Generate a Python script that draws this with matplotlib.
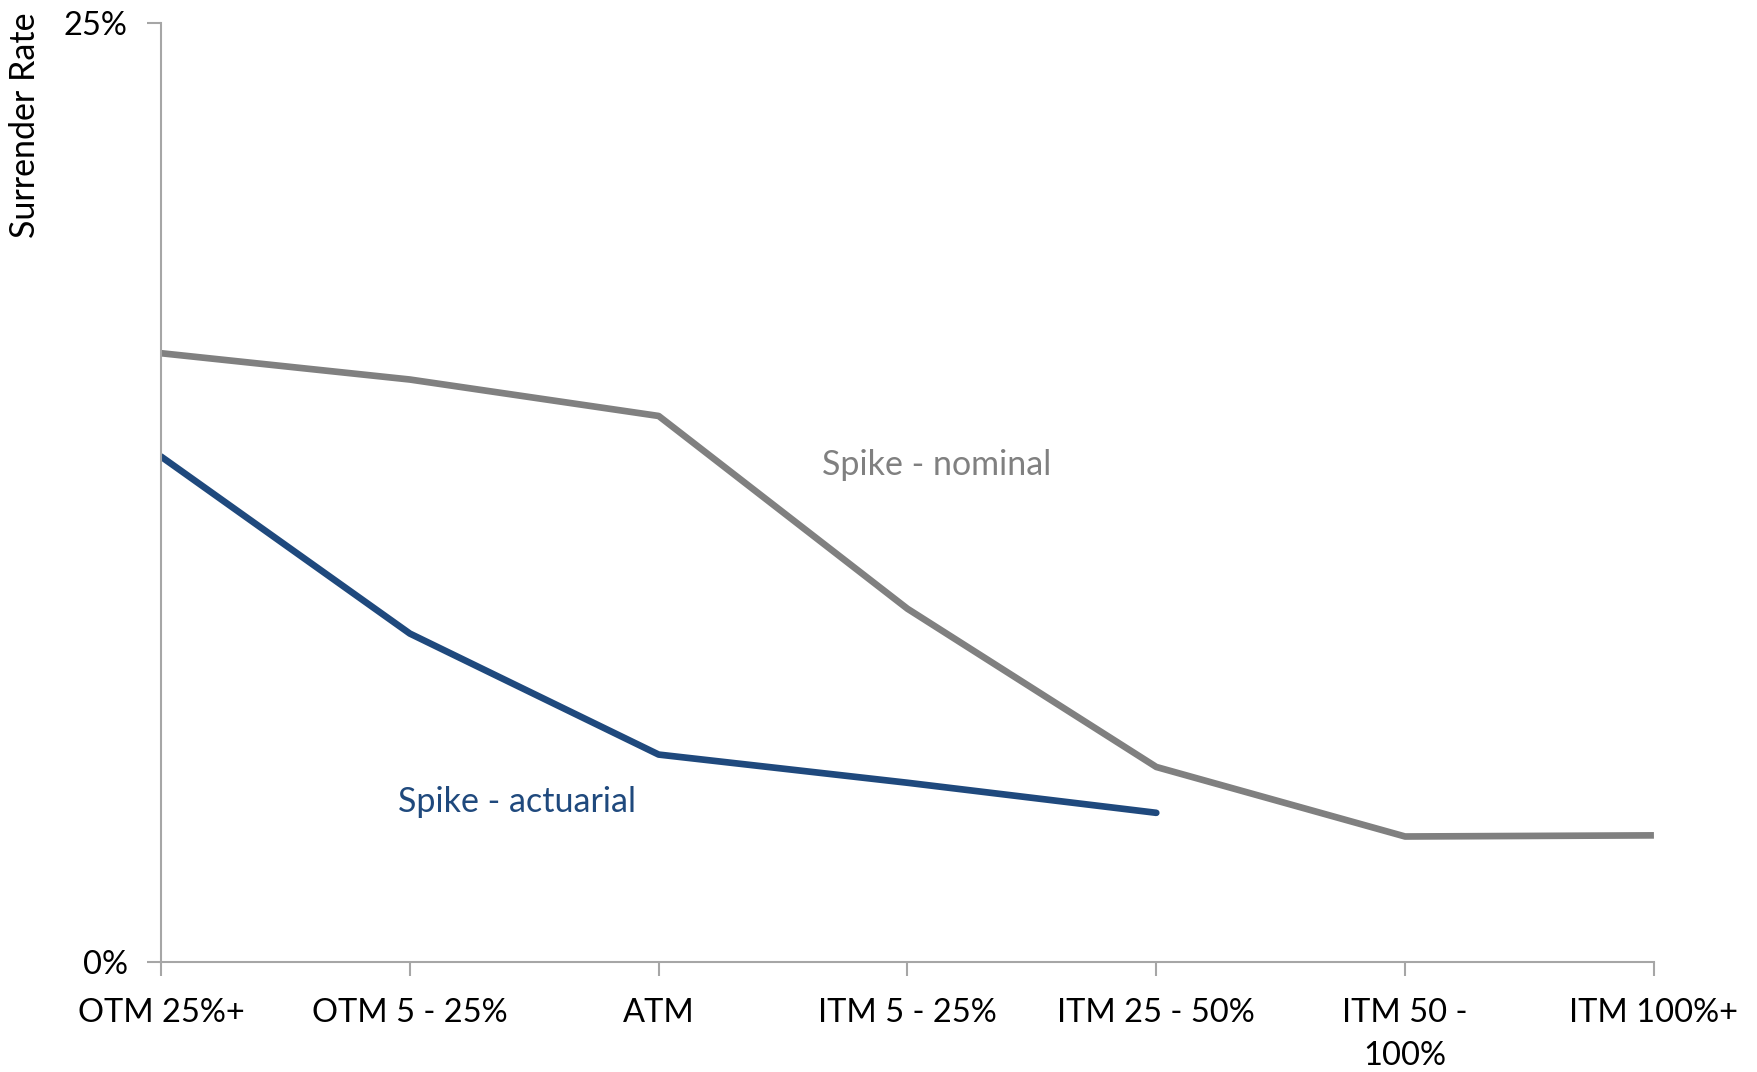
import numpy as np
import matplotlib.pyplot as plt
from matplotlib.ticker import FuncFormatter

plt.rcParams['font.family'] = ['Lato', 'DejaVu Sans']

# 价内/价外分档
categories = ['OTM 25%+', 'OTM 5 - 25%', 'ATM', 'ITM 5 - 25%',
              'ITM 25 - 50%', 'ITM 50 -\n100%', 'ITM 100%+']
# 退保率 (%)
nominal = [16.2, 15.5, 14.53, 9.4, 5.19, 3.34, 3.37]
actuarial = [13.45, 8.74, 5.52, 4.77, 3.97]

gray = '#808080'
blue = '#1F497D'
axis_col = '#A6A6A6'

fig = plt.figure(figsize=(17.58, 10.72), dpi=100)
ax = fig.add_axes([0.0916, 0.1026, 0.8492, 0.8764])

x = np.arange(len(categories))
ax.plot(x, nominal, color=gray, lw=4.8, solid_capstyle='butt')
ax.plot(x[:len(actuarial)], actuarial, color=blue, lw=4.8, solid_capstyle='round')

ax.set_xlim(0, len(categories) - 1)
ax.set_ylim(0, 25)
ax.set_xticks(x)
ax.set_xticklabels(categories, fontsize=23.5, linespacing=1.55)
ax.set_yticks([0, 25])
ax.yaxis.set_major_formatter(FuncFormatter(lambda v, p: f'{v:.0f}%'))
ax.tick_params(axis='y', labelsize=23.5, length=10, width=1.5, color=axis_col, pad=14)
ax.tick_params(axis='x', length=10, width=1.5, color=axis_col, pad=16)

for s in ['top', 'right']:
    ax.spines[s].set_visible(False)
for s in ['left', 'bottom']:
    ax.spines[s].set_color(axis_col)
    ax.spines[s].set_linewidth(1.5)

# 直接在线旁标注系列名
ax.text(3.118, 13.22, 'Spike - nominal', color=gray, fontsize=24.5, ha='center', va='center')
ax.text(1.43, 4.26, 'Spike - actuarial', color=blue, fontsize=24.5, ha='center', va='center')

fig.text(25 / 1758, 1 - 12 / 1072, 'Surrender Rate', rotation=90,
         fontsize=24.5, ha='center', va='top')

fig.savefig('out.png', dpi=100)
